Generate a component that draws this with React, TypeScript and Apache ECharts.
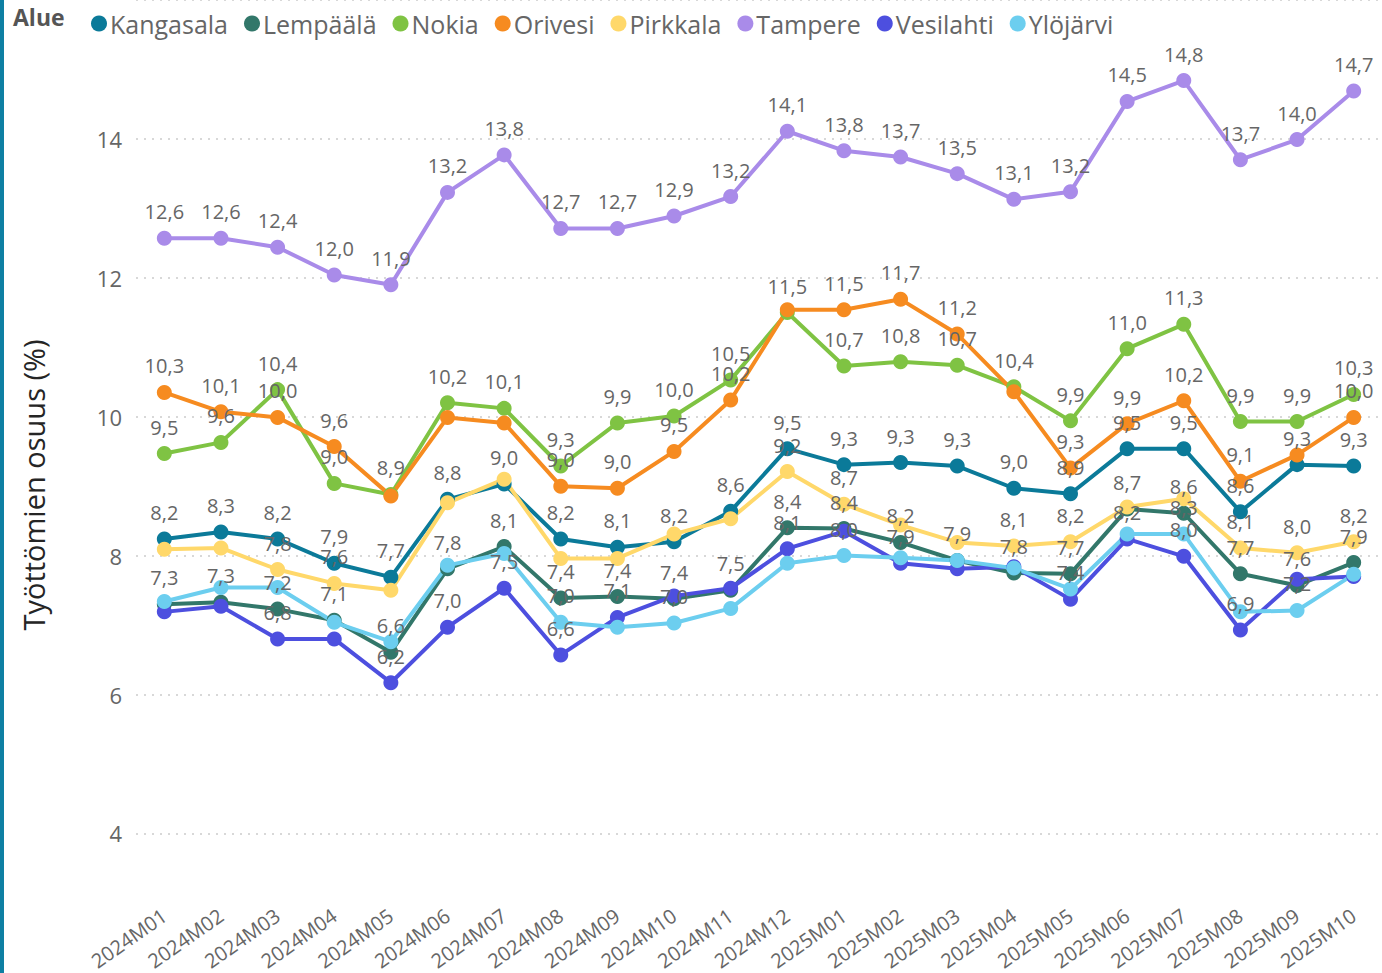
import React, { useEffect, useRef } from "react";
import * as echarts from "echarts";

const months = [
  "2024M01", "2024M02", "2024M03", "2024M04", "2024M05", "2024M06", "2024M07", "2024M08",
  "2024M09", "2024M10", "2024M11", "2024M12", "2025M01", "2025M02", "2025M03", "2025M04",
  "2025M05", "2025M06", "2025M07", "2025M08", "2025M09", "2025M10",
];

const kangasala = [8.24, 8.34, 8.24, 7.89, 7.69, 8.81, 9.03, 8.24, 8.12, 8.2, 8.64, 9.54, 9.31, 9.34, 9.29, 8.97, 8.89, 9.54, 9.54, 8.63, 9.31, 9.29];
const lempaala = [7.3, 7.33, 7.23, 7.07, 6.61, 7.81, 8.13, 7.39, 7.41, 7.38, 7.5, 8.4, 8.39, 8.19, 7.93, 7.75, 7.74, 8.67, 8.61, 7.74, 7.57, 7.9];
const nokia = [9.47, 9.63, 10.39, 9.04, 8.88, 10.2, 10.12, 9.29, 9.91, 10.01, 10.53, 11.5, 10.73, 10.79, 10.74, 10.43, 9.94, 10.98, 11.33, 9.93, 9.93, 10.32];
const orivesi = [10.35, 10.07, 9.99, 9.57, 8.86, 9.99, 9.91, 9.0, 8.97, 9.5, 10.24, 11.54, 11.54, 11.69, 11.19, 10.36, 9.26, 9.9, 10.23, 9.07, 9.45, 9.99];
const pirkkala = [8.09, 8.11, 7.8, 7.6, 7.5, 8.76, 9.1, 7.96, 7.96, 8.31, 8.53, 9.21, 8.74, 8.44, 8.19, 8.14, 8.2, 8.7, 8.82, 8.11, 8.04, 8.2];
const tampere = [12.57, 12.57, 12.44, 12.04, 11.9, 13.23, 13.77, 12.71, 12.71, 12.89, 13.17, 14.11, 13.83, 13.74, 13.5, 13.13, 13.24, 14.54, 14.84, 13.7, 13.99, 14.69];
const vesilahti = [7.19, 7.27, 6.8, 6.8, 6.17, 6.97, 7.53, 6.57, 7.11, 7.42, 7.53, 8.1, 8.35, 7.89, 7.81, 7.84, 7.37, 8.24, 7.99, 6.93, 7.66, 7.7];
const ylojarvi = [7.34, 7.54, 7.54, 7.04, 6.76, 7.86, 8.03, 7.04, 6.97, 7.03, 7.24, 7.89, 8.0, 7.97, 7.93, 7.82, 7.52, 8.31, 8.31, 7.19, 7.21, 7.73];

const seriesNames = ["Kangasala", "Lempäälä", "Nokia", "Orivesi", "Pirkkala", "Tampere", "Vesilahti", "Ylöjärvi"];
const seriesData = [kangasala, lempaala, nokia, orivesi, pirkkala, tampere, vesilahti, ylojarvi];
const seriesColors = ["#0B7A99", "#32776A", "#7FC343", "#F68B20", "#FFD86A", "#A98BE9", "#4D4FDF", "#6CCEEF"];

const yTicks = [4, 6, 8, 10, 12, 14];

const FONT = "'Open Sans', 'Noto Sans', sans-serif";

export default function App() {
  const ref = useRef<HTMLDivElement>(null);

  useEffect(() => {
    if (!ref.current) return;
    const chart = echarts.init(ref.current, undefined, { renderer: "svg" });
    const fmt = (v: number) => v.toFixed(1).replace(".", ",");
    chart.setOption({
      animation: false,
      textStyle: { fontFamily: FONT },
      graphic: [
        { type: "rect", left: 0, top: 0, shape: { width: 4, height: 973 }, style: { fill: "#0E7FA3" } },
        {
          type: "text",
          left: 13,
          top: 5,
          style: { text: "Alue", fontSize: 23, fontWeight: "bold", fill: "#555", fontFamily: FONT },
        },
        {
          type: "text",
          x: 33,
          y: 485,
          rotation: Math.PI / 2,
          style: {
            text: "Työttömien osuus (%)",
            fontSize: 29,
            fill: "#252525",
            fontFamily: FONT,
            align: "center",
            verticalAlign: "middle",
          },
        },
      ],
      legend: {
        left: 86,
        top: 6,
        icon: "circle",
        itemWidth: 16,
        itemHeight: 16,
        itemGap: 16,
        textStyle: { fontSize: 25, color: "#666", fontFamily: FONT, padding: [0, 0, 0, -2] },
        data: seriesNames,
      },
      grid: { left: 136, right: -3, top: -5, bottom: 138, containLabel: false },
      xAxis: {
        type: "category",
        data: months,
        boundaryGap: true,
        axisLine: { show: false },
        axisTick: { show: false },
        axisLabel: { rotate: 35, fontSize: 20, color: "#666", margin: 80, fontFamily: FONT },
      },
      yAxis: {
        type: "value",
        min: yTicks[0],
        max: 16,
        interval: 2,
        axisLabel: { fontSize: 22, color: "#666", margin: 14, showMaxLabel: false, fontFamily: FONT },
        splitLine: { lineStyle: { type: [2, 6], color: "#CCCCCC", width: 1.5 } },
        axisLine: { show: false },
        axisTick: { show: false },
      },
      series: seriesNames.map((name, i) => ({
        name,
        type: "line",
        data: seriesData[i],
        color: seriesColors[i],
        symbol: "circle",
        symbolSize: 15,
        lineStyle: { width: 4 },
        label: {
          show: true,
          position: "top",
          distance: 9,
          fontSize: 20,
          color: "#666",
          fontFamily: FONT,
          formatter: (p: any) => fmt(p.value),
        },
        labelLayout: { hideOverlap: true },
        emphasis: { disabled: true },
      })),
    });
    return () => chart.dispose();
  }, []);

  return (
    <div
      ref={ref}
      style={{ position: "absolute", left: 0, top: 0, width: 1382, height: 973, background: "#fff" }}
    />
  );
}
